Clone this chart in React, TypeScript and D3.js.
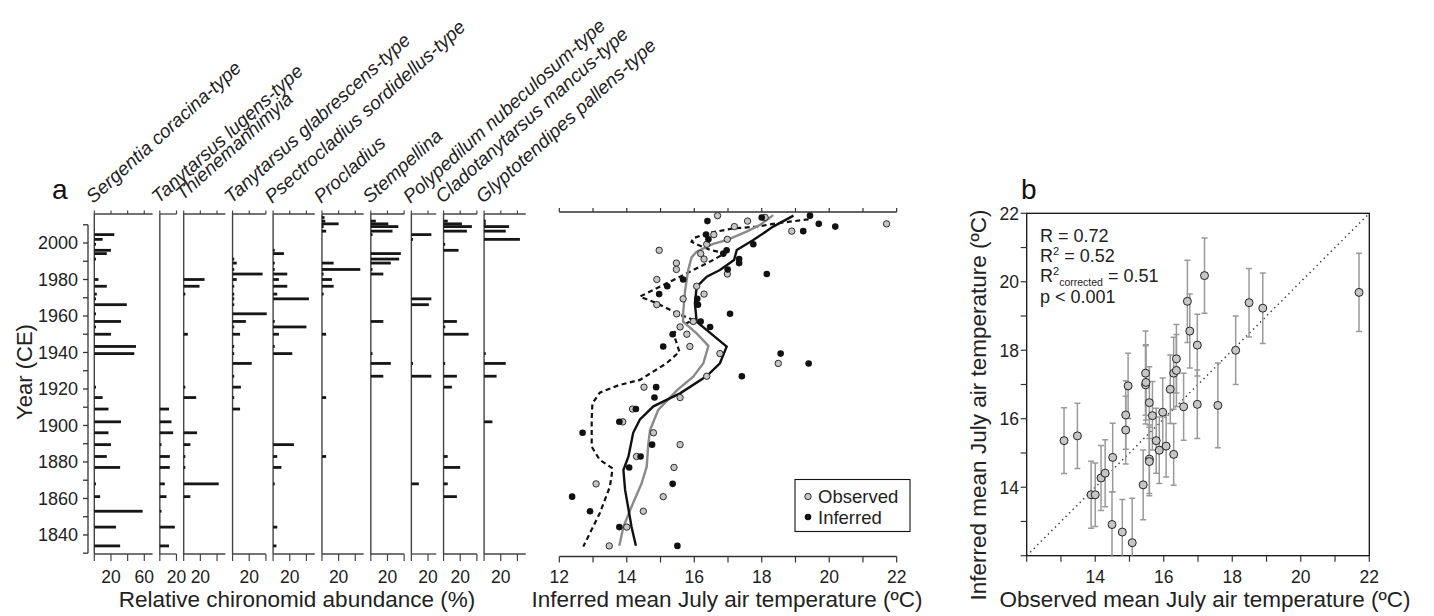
import React from 'react';
import * as d3 from 'd3';

// sample ages (CE), top of core first
const years = [2015, 2014, 2012, 2010.5, 2009, 2006.5, 2004.6, 2002, 1999.3, 1996,
  1994.2, 1991.2, 1989, 1985.5, 1983, 1980, 1976.3, 1972, 1969.4, 1966.2,
  1961.2, 1957, 1954, 1950, 1943.3, 1939.4, 1934, 1927, 1921, 1915.3,
  1909, 1902, 1896, 1889.5, 1883, 1877, 1868, 1861, 1853, 1844.3, 1834];

// relative abundances (%)
const sergentia = [0,0,0,0,0,0,24,10,2,20, 15,2,0,0,0,5,15,3,2,39, 2,32,2,20,50,48,0,0,2,10, 17,32,17,20,15,31,2,7,58,26, 31];
const lugens = [0,0,0,0,0,0,0,0,0,0, 0,0,0,0,0,0,0,0,0,0, 0,0,0,0,0,0,0,0,0,0, 11,14,16,2,12,12,6,8,2,18, 11];
const thienemannimyia = [0,0,0,0,0,0,0,0,0,0, 0,0,0,0,0,25,19,2,0,0, 0,0,0,5,0,0,0,0,2,15, 0,0,16,8,2,2,42,8,0,0, 0];
const glabrescens = [0,0,0,0,0,0,0,0,0,0, 0,2,5,2,36,5,2,2,2,2, 41,16,2,9,2,2,23,2,10,2, 9,0,0,0,0,0,0,0,0,0, 0];
const psectrocladius = [0,0,0,0,0,0,0,0,0,2, 13,0,2,2,17,7,17,5,43,0, 0,2,40,7,2,23,0,0,0,0, 0,0,0,25,5,10,2,0,0,5, 4];
const procladius = [0,3,4,20,2,5,0,0,0,0, 0,0,14,46,2,12,14,2,0,0, 0,0,0,5,0,0,0,0,0,5, 0,0,0,0,5,0,0,0,0,0, 0];
const stempellina = [0,0,6,21,33,26,2,0,0,0, 36,34,24,2,15,0,0,0,0,0, 0,15,0,0,0,2,24,15,0,0, 0,0,0,0,0,0,0,0,0,0, 0];
const polypedilum = [0,0,0,0,0,0,24,2,0,0, 0,0,0,0,0,0,0,0,24,21, 0,0,0,0,0,0,2,24,0,0, 0,0,0,0,0,0,9,0,0,0, 0];
const cladotanytarsus = [0,0,5,22,34,28,0,0,2,18, 0,0,0,0,0,0,0,0,0,0, 0,16,2,30,0,0,2,16,10,0, 0,0,0,0,5,20,5,16,0,0, 0];
const glyptotendipes = [0,0,2,2,30,26,0,43,0,0, 0,0,0,0,0,0,0,0,0,0, 0,0,0,0,0,2,26,15,0,0, 0,10,0,0,0,0,0,0,0,0, 0];

// mean July air temperature (°C)
const observed = [16.69,18.1,17.58,21.7,17.19,18.89,16.58,16.98,16.37,14.96, 16.19,16.29,15.47,15.47,16.98,14.89,16.07,16.29,15.67,14.89,
  15.48,15.97,15.58,15.78,15.87,16.76,18.49,16.37,14.51,15.58, 14.17,13.88,14.79,15.58,14.29,15.4,13.09,15.08,14.49,14.0, 13.48];
const inferred = [19.43,18.0,16.39,19.69,20.18,19.23,16.35,16.42,17.75,16.96, 16.86,17.33,17.33,16.99,18.15,15.67,15.2,14.96,16.09,16.11,
  17.06,16.19,16.47,15.36,15.08,18.56,19.39,17.41,14.87,14.82, 14.27,13.78,12.69,14.75,14.41,14.07,15.36,12.38,12.91,13.78, 15.5];
const inferredErr = [1.2,1.0,1.24,1.14,1.1,1.03,0.98,1.0,1.0,0.95, 1.0,1.05,1.23,1.14,0.9,0.99,0.9,0.9,1.0,1.0,
  1.1,1.0,1.05,0.95,0.97,1.08,1.0,1.05,1.0,1.0, 0.95,0.98,0.95,1.0,0.98,1.02,0.96,1.3,0.95,0.93, 0.95];

// smoothed curves
const obsSmoothYears = [2015.3, 2009.9, 2006.2, 2001.6, 1999.5, 1995.2, 1992.1, 1985.2, 1974.2, 1961.5, 1956.9, 1950.5, 1943.6, 1934.1, 1926.7, 1919.5, 1908.5, 1897.5, 1890.2, 1877.4, 1868.3, 1853.7, 1844.5, 1834.1];
const obsSmoothTemps = [18.34, 17.95, 17.55, 16.96, 16.56, 16.07, 15.92, 15.82, 15.73, 15.67, 15.67, 16.07, 16.42, 16.27, 15.97, 15.5, 14.93, 14.69, 14.64, 14.59, 14.44, 14.1, 13.9, 13.78];
const infSmoothYears = [2015, 2009, 2001.6, 1996.2, 1990.7, 1985.2, 1981.5, 1976, 1967, 1956.9, 1943.2, 1934.1, 1927.1, 1917.6, 1914, 1910.5, 1903.3, 1896, 1883, 1875.6, 1864.7, 1852, 1844.5, 1834.1];
const infSmoothTemps = [18.94, 18.34, 17.75, 17.26, 17.18, 16.76, 16.37, 16.07, 16.02, 16.07, 16.96, 16.76, 16.37, 15.58, 15.18, 14.79, 14.39, 14.19, 14.05, 13.9, 13.95, 14.07, 14.14, 14.27];
const dashYears = [2013, 2010.8, 2009, 2008, 2005.3, 2002.6, 2000.7, 1998.9, 1996.2, 1994.4, 1990.7, 1983.4, 1977.9, 1970.6, 1967, 1961.5, 1957.8, 1955.1, 1950.5, 1945, 1940.4, 1934.1, 1925, 1922, 1918, 1912, 1903, 1888.4, 1881.1, 1876.5, 1866.5, 1851.9, 1833.6];
const dashTemps = [19.39, 18.45, 17.86, 17.16, 16.37, 15.97, 15.92, 16.12, 16.47, 16.91, 16.56, 15.78, 15.18, 14.39, 14.89, 15.48, 15.97, 15.67, 15.38, 15.48, 15.56, 15.18, 14.39, 13.75, 13.2, 12.98, 12.96, 12.96, 13.2, 13.58, 13.5, 13.2, 12.71];

const yearTicks = d3.range(1830, 2011, 10);
const yearLabels = [1840, 1860, 1880, 1900, 1920, 1940, 1960, 1980, 2000];
const tempTicks = d3.range(12, 23, 1);
const tempLabels = [12, 14, 16, 18, 20, 22];
const scatterLabels = [14, 16, 18, 20, 22];

const taxa = [
  { name: 'Sergentia coracina-type', values: sergentia, max: 70, ticks: [0, 20, 40, 60], labels: [20, 60] },
  { name: 'Tanytarsus lugens-type', values: lugens, max: 20, ticks: [0, 20], labels: [20] },
  { name: 'Thienemannimyia', values: thienemannimyia, max: 50, ticks: [0, 20, 40], labels: [20], lift: 3 },
  { name: 'Tanytarsus glabrescens-type', values: glabrescens, max: 40, ticks: [0, 20, 40], labels: [20] },
  { name: 'Psectrocladius sordidellus-type', values: psectrocladius, max: 50, ticks: [0, 20, 40], labels: [20] },
  { name: 'Procladius', values: procladius, max: 50, ticks: [0, 20, 40], labels: [20] },
  { name: 'Stempellina', values: stempellina, max: 40, ticks: [0, 20, 40], labels: [20] },
  { name: 'Polypedilum nubeculosum-type', values: polypedilum, max: 30, ticks: [0, 20], labels: [20] },
  { name: 'Cladotanytarsus mancus-type', values: cladotanytarsus, max: 40, ticks: [0, 20, 40], labels: [20] },
  { name: 'Glyptotendipes pallens-type', values: glyptotendipes, max: 50, ticks: [0, 20, 40], labels: [20] },
];

const FONT = 'Liberation Sans, Arial, Helvetica, sans-serif';

export default function App() {
  const yYear = d3.scaleLinear().domain([1830, 2016.5]).range([553.2, 212.9]);

  // strat columns
  const pxPerPct = 0.8333;
  let cx = 94.3;
  const cols = taxa.map(t => {
    const x = d3.scaleLinear().domain([0, t.max]).range([cx, cx + t.max * pxPerPct]);
    cx += t.max * pxPerPct + 7.2;
    return { ...t, x };
  });
  const stratTop = 214, stratBot = 554;

  // temperature panel
  const xTemp = d3.scaleLinear().domain([12, 22]).range([559.3, 896.7]);
  const tempTop = 212, tempBot = 556.5;
  const line = d3.line<[number, number]>().x(d => xTemp(d[1])).y(d => yYear(d[0]));
  const obsPath = line(obsSmoothYears.map((y, i) => [y, obsSmoothTemps[i]]));
  const infPath = line(infSmoothYears.map((y, i) => [y, infSmoothTemps[i]]));
  const dashPath = line(dashYears.map((y, i) => [y, dashTemps[i]]));

  // scatter panel
  const xS = d3.scaleLinear().domain([12, 22]).range([1026.7, 1369.3]);
  const yS = d3.scaleLinear().domain([12, 22]).range([555.7, 213.3]);

  return (
    <svg width={1434} height={616} style={{ position: 'absolute', left: 0, top: 0, background: '#fff' }} fontFamily={FONT}>
      <defs>
        <clipPath id="scClip">
          <rect x={xS(12)} y={yS(22)} width={xS(22) - xS(12)} height={yS(12) - yS(22)} />
        </clipPath>
      </defs>

      {/* ---------- panel a: stratigraphy ---------- */}
      <text x={52} y={199} fontSize={28} fill="#111">a</text>
      <line x1={88} x2={88} y1={yYear(2010)} y2={yYear(1830)} stroke="#333" strokeWidth={1.3} />
      {yearTicks.map(t => (
        <line key={t} x1={83} x2={88} y1={yYear(t)} y2={yYear(t)} stroke="#333" strokeWidth={1.3} />
      ))}
      {yearLabels.map(t => (
        <text key={t} x={78} y={yYear(t) + 6.3} fontSize={18} textAnchor="end" fill="#222">{t}</text>
      ))}
      <text transform={`translate(32,372) rotate(-90)`} fontSize={22} textAnchor="middle" fill="#222">Year (CE)</text>

      {cols.map(c => {
        const x0 = c.x(0);
        return (
          <g key={c.name}>
            <line x1={x0} x2={x0} y1={stratTop} y2={stratBot} stroke="#444" strokeWidth={1.4} />
            <line x1={x0} x2={c.x(c.max)} y1={stratTop} y2={stratTop} stroke="#444" strokeWidth={1.3} />
            <line x1={x0} x2={c.x(c.max)} y1={stratBot} y2={stratBot} stroke="#444" strokeWidth={1.3} />
            {c.ticks.map(t => (
              <g key={t}>
                <line x1={c.x(t)} x2={c.x(t)} y1={stratTop} y2={stratTop - 3.5} stroke="#444" strokeWidth={1.2} />
                <line x1={c.x(t)} x2={c.x(t)} y1={stratBot} y2={stratBot + 7} stroke="#444" strokeWidth={1.2} />
              </g>
            ))}
            {c.labels.map(t => (
              <text key={t} x={c.x(t)} y={583} fontSize={17.5} textAnchor="middle" fill="#222">{t}</text>
            ))}
            {c.values.map((v, i) => v > 0 ? (
              <rect key={i} x={x0} y={yYear(years[i]) - 1.4} width={c.x(v) - x0} height={2.8} fill="#161616" />
            ) : null)}
            <text transform={`translate(${x0 - 1},${204 - (c.lift || 0)}) rotate(-42)`} fontSize={19} fontStyle="italic" fill="#222">{c.name}</text>
          </g>
        );
      })}
      <text x={297} y={607} fontSize={22.5} textAnchor="middle" fill="#222">Relative chironomid abundance (%)</text>

      {/* ---------- temperature profile ---------- */}
      <line x1={xTemp(12)} x2={xTemp(22)} y1={tempTop} y2={tempTop} stroke="#333" strokeWidth={1.3} />
      <line x1={xTemp(12)} x2={xTemp(22)} y1={tempBot} y2={tempBot} stroke="#333" strokeWidth={1.3} />
      {tempTicks.map(t => (
        <g key={t}>
          <line x1={xTemp(t)} x2={xTemp(t)} y1={tempTop} y2={tempTop - 4} stroke="#333" strokeWidth={1.2} />
          <line x1={xTemp(t)} x2={xTemp(t)} y1={tempBot} y2={tempBot + 6} stroke="#333" strokeWidth={1.2} />
        </g>
      ))}
      {tempLabels.map(t => (
        <text key={t} x={xTemp(t)} y={583} fontSize={17.5} textAnchor="middle" fill="#222">{t}</text>
      ))}
      <text x={727} y={607} fontSize={22.5} textAnchor="middle" fill="#222">Inferred mean July air temperature (ºC)</text>

      <path d={dashPath || ''} fill="none" stroke="#111" strokeWidth={2.2} strokeDasharray="5 3.5" />
      <path d={obsPath || ''} fill="none" stroke="#8a8a8a" strokeWidth={2.4} />
      <path d={infPath || ''} fill="none" stroke="#111" strokeWidth={2.4} />
      {years.map((y, i) => (
        <circle key={'o' + i} cx={xTemp(observed[i])} cy={yYear(y)} r={3.2} fill="#c6c6c6" stroke="#1a1a1a" strokeWidth={0.9} />
      ))}
      {years.map((y, i) => (
        <circle key={'i' + i} cx={xTemp(inferred[i])} cy={yYear(y)} r={3.3} fill="#111" />
      ))}

      <rect x={795} y={479.5} width={115} height={52} fill="#fff" stroke="#111" strokeWidth={1.1} />
      <circle cx={808} cy={496.5} r={3.2} fill="#c6c6c6" stroke="#1a1a1a" strokeWidth={0.9} />
      <circle cx={808} cy={517} r={3.3} fill="#111" />
      <text x={818} y={503} fontSize={18.5} fill="#222">Observed</text>
      <text x={818} y={524} fontSize={18.5} fill="#222">Inferred</text>

      {/* ---------- panel b: scatter ---------- */}
      <text x={1021} y={199} fontSize={28} fill="#111">b</text>
      <rect x={xS(12)} y={yS(22)} width={xS(22) - xS(12)} height={yS(12) - yS(22)} fill="none" stroke="#111" strokeWidth={1.3} />
      {tempTicks.map(t => (
        <g key={t}>
          <line x1={xS(t)} x2={xS(t)} y1={yS(12)} y2={yS(12) + 6} stroke="#333" strokeWidth={1.2} />
          <line x1={xS(12)} x2={xS(12) - 6} y1={yS(t)} y2={yS(t)} stroke="#333" strokeWidth={1.2} />
        </g>
      ))}
      {scatterLabels.map(t => (
        <g key={t}>
          <text x={xS(t)} y={583} fontSize={17.5} textAnchor="middle" fill="#222">{t}</text>
          <text x={1019} y={yS(t) + 6.3} fontSize={17.5} textAnchor="end" fill="#222">{t}</text>
        </g>
      ))}
      <text transform={`translate(986,405) rotate(-90)`} fontSize={22.5} textAnchor="middle" fill="#222">Inferred mean July air temperature (ºC)</text>
      <text x={1205} y={607} fontSize={22.5} textAnchor="middle" fill="#222">Observed mean July air temperature (ºC)</text>

      <g clipPath="url(#scClip)">
        <line x1={xS(12)} y1={yS(12)} x2={xS(22)} y2={yS(22)} stroke="#333" strokeWidth={1.4} strokeDasharray="1.4 3.6" />
        {observed.map((o, i) => {
          const lo = yS(inferred[i] - inferredErr[i]);
          const hi = yS(inferred[i] + inferredErr[i]);
          const x = xS(o);
          return (
            <g key={i} stroke="#9a9a9a" strokeWidth={1.5}>
              <line x1={x} x2={x} y1={lo} y2={hi} />
              <line x1={x - 3} x2={x + 3} y1={lo} y2={lo} />
              <line x1={x - 3} x2={x + 3} y1={hi} y2={hi} />
            </g>
          );
        })}
        {observed.map((o, i) => (
          <circle key={i} cx={xS(o)} cy={yS(inferred[i])} r={4} fill="#c6c6c6" stroke="#222" strokeWidth={1} />
        ))}
      </g>

      <text x={1040} y={241.5} fontSize={18} fill="#222">R = 0.72</text>
      <text x={1040} y={262} fontSize={18} fill="#222">R<tspan fontSize={11} dy={-7}>2</tspan><tspan dy={7}> = 0.52</tspan></text>
      <text x={1040} y={281.5} fontSize={18} fill="#222">R<tspan fontSize={11} dy={-7}>2</tspan><tspan fontSize={10.5} dy={11}>corrected</tspan><tspan dy={-4}> = 0.51</tspan></text>
      <text x={1040} y={303} fontSize={18} fill="#222">p &lt; 0.001</text>
    </svg>
  );
}
